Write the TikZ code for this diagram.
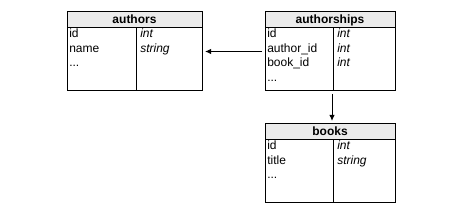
\documentclass[tikz,border=0pt]{standalone}
\usepackage{fontspec}
\setmainfont{Liberation Sans}
\usetikzlibrary{calc,arrows.meta}
\begin{document}
\begin{tikzpicture}[x=0.75pt,y=-0.75pt,
  tbl/.style={inner sep=0pt, outer sep=0pt, anchor=north west, minimum height=59.25pt},
  border/.style={draw=black, line width=0.75pt},
  hdr/.style={fill=black!8},
  ttl/.style={anchor=base, inner sep=0pt, font=\fontsize{9}{10}\selectfont\bfseries},
  fld/.style={anchor=base west, inner sep=0pt, font=\fontsize{9}{10}\selectfont},
  typ/.style={anchor=base west, inner sep=0pt, font=\fontsize{9}{10}\selectfont\itshape},
  link/.style={draw=black, line width=0.75pt, -{Latex[length=4.5pt,width=4pt]}, shorten <=2.25pt, shorten >=2.25pt}
]
\useasboundingbox (0,0) rectangle (467,216);

% authors
\node[tbl, minimum width=101.25pt] (authors) at (67,12) {};
\fill[hdr] (authors.north west) rectangle ($(authors.north east)+(0,16)$);
\draw[border] (authors.north west) rectangle (authors.south east);
\draw[border] ($(authors.north west)+(0,16)$) -- ($(authors.north east)+(0,16)$);
\draw[border] ($(authors.north west)+(69,16)$) -- ($(authors.south west)+(69,0)$);
\node[ttl] (authors-t) at ($(authors.north)+(0,12)$) {authors};
\node[fld] (authors-f1) at ($(authors.north west)+(2,26)$) {id};
\node[fld] (authors-f2) at ($(authors.north west)+(2,40.5)$) {name};
\node[fld] (authors-f3) at ($(authors.north west)+(2,55)$) {...};
\node[typ] (authors-y1) at ($(authors.north west)+(73,26)$) {int};
\node[typ] (authors-y2) at ($(authors.north west)+(73,40.5)$) {string};

% authorships
\node[tbl, minimum width=97.5pt] (authorships) at (265,12) {};
\fill[hdr] (authorships.north west) rectangle ($(authorships.north east)+(0,16)$);
\draw[border] (authorships.north west) rectangle (authorships.south east);
\draw[border] ($(authorships.north west)+(0,16)$) -- ($(authorships.north east)+(0,16)$);
\draw[border] ($(authorships.north west)+(68,16)$) -- ($(authorships.south west)+(68,0)$);
\node[ttl] (authorships-t) at ($(authorships.north)+(0,12)$) {authorships};
\node[fld] (authorships-f1) at ($(authorships.north west)+(2,26)$) {id};
\node[fld] (authorships-f2) at ($(authorships.north west)+(2,40.5)$) {author\_id};
\node[fld] (authorships-f3) at ($(authorships.north west)+(2,55)$) {book\_id};
\node[fld] (authorships-f4) at ($(authorships.north west)+(2,69.5)$) {...};
\node[typ] (authorships-y1) at ($(authorships.north west)+(72,26)$) {int};
\node[typ] (authorships-y2) at ($(authorships.north west)+(72,40.5)$) {int};
\node[typ] (authorships-y3) at ($(authorships.north west)+(72,55)$) {int};

% books
\node[tbl, minimum width=97.5pt] (books) at (265,124) {};
\fill[hdr] (books.north west) rectangle ($(books.north east)+(0,16)$);
\draw[border] (books.north west) rectangle (books.south east);
\draw[border] ($(books.north west)+(0,16)$) -- ($(books.north east)+(0,16)$);
\draw[border] ($(books.north west)+(68,16)$) -- ($(books.south west)+(68,0)$);
\node[ttl] (books-t) at ($(books.north)+(0,12)$) {books};
\node[fld] (books-f1) at ($(books.north west)+(2,26)$) {id};
\node[fld] (books-f2) at ($(books.north west)+(2,40.5)$) {title};
\node[fld] (books-f3) at ($(books.north west)+(2,55)$) {...};
\node[typ] (books-y1) at ($(books.north west)+(72,26)$) {int};
\node[typ] (books-y2) at ($(books.north west)+(72,40.5)$) {string};

% connectors
\draw[link] (authorships) -- (authors);
\draw[link] ([xshift=1.5pt]authorships.south) -- ([xshift=1.5pt]books.north);
\end{tikzpicture}
\end{document}
